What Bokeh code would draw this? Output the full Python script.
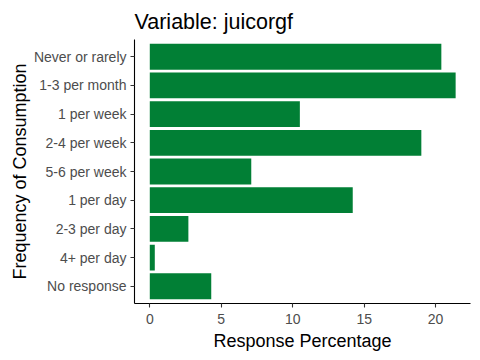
from bokeh.plotting import figure
from bokeh.models import Range1d, FixedTicker, ColumnDataSource
from bokeh.embed import file_html
from bokeh.resources import INLINE

categories = ["Never or rarely", "1-3 per month", "1 per week", "2-4 per week",
              "5-6 per week", "1 per day", "2-3 per day", "4+ per day", "No response"]
percentages = [20.4, 21.4, 10.5, 19.0, 7.1, 14.2, 2.7, 0.35, 4.3]
x_ticks = [0, 5, 10, 15, 20]

n = len(categories)
ypos = [n - i for i in range(n)]
src = ColumnDataSource(dict(y=ypos, pct=percentages, cat=categories))

FONT = "Liberation Sans"
p = figure(frame_width=336, frame_height=264, output_backend="svg", toolbar_location=None,
           x_range=Range1d(-1.07, 22.44), y_range=Range1d(0.4, n + 0.6),
           min_border_left=134, min_border_right=2, min_border_top=39, min_border_bottom=46)

p.hbar(y="y", left=0, right="pct", height=0.9, source=src,
       fill_color="#017F35", line_color=None)

p.title.text = "Variable: juicorgf"
p.title.text_font = FONT
p.title.text_font_size = "21.5px"
p.title.text_font_style = "normal"
p.title.text_color = "black"
p.title.standoff = 12

p.xgrid.visible = False
p.ygrid.visible = False
p.outline_line_color = None
p.background_fill_color = "white"
p.border_fill_color = "white"

p.xaxis.ticker = FixedTicker(ticks=x_ticks)
p.yaxis.ticker = FixedTicker(ticks=ypos)
p.yaxis.major_label_overrides = {y: c for y, c in zip(ypos, categories)}

for ax in (p.xaxis, p.yaxis):
    ax.axis_line_color = "black"
    ax.axis_line_width = 1.1
    ax.major_tick_line_color = "#333333"
    ax.major_tick_line_width = 1.1
    ax.major_tick_out = 4
    ax.major_tick_in = 0
    ax.minor_tick_line_color = None
    ax.major_label_text_font = FONT
    ax.major_label_text_font_size = "14px"
    ax.major_label_text_color = "#4D4D4D"
    ax.axis_label_text_font = FONT
    ax.axis_label_text_font_size = "18px"
    ax.axis_label_text_font_style = "normal"
    ax.axis_label_text_color = "black"

p.xaxis.major_label_standoff = 6
p.xaxis.axis_label_standoff = 4
p.yaxis.major_label_standoff = 4
p.yaxis.axis_label_standoff = 1

p.xaxis.axis_label = "Response Percentage"
p.yaxis.axis_label = "Frequency of Consumption"

open("out.html", "w").write(file_html(p, INLINE))
